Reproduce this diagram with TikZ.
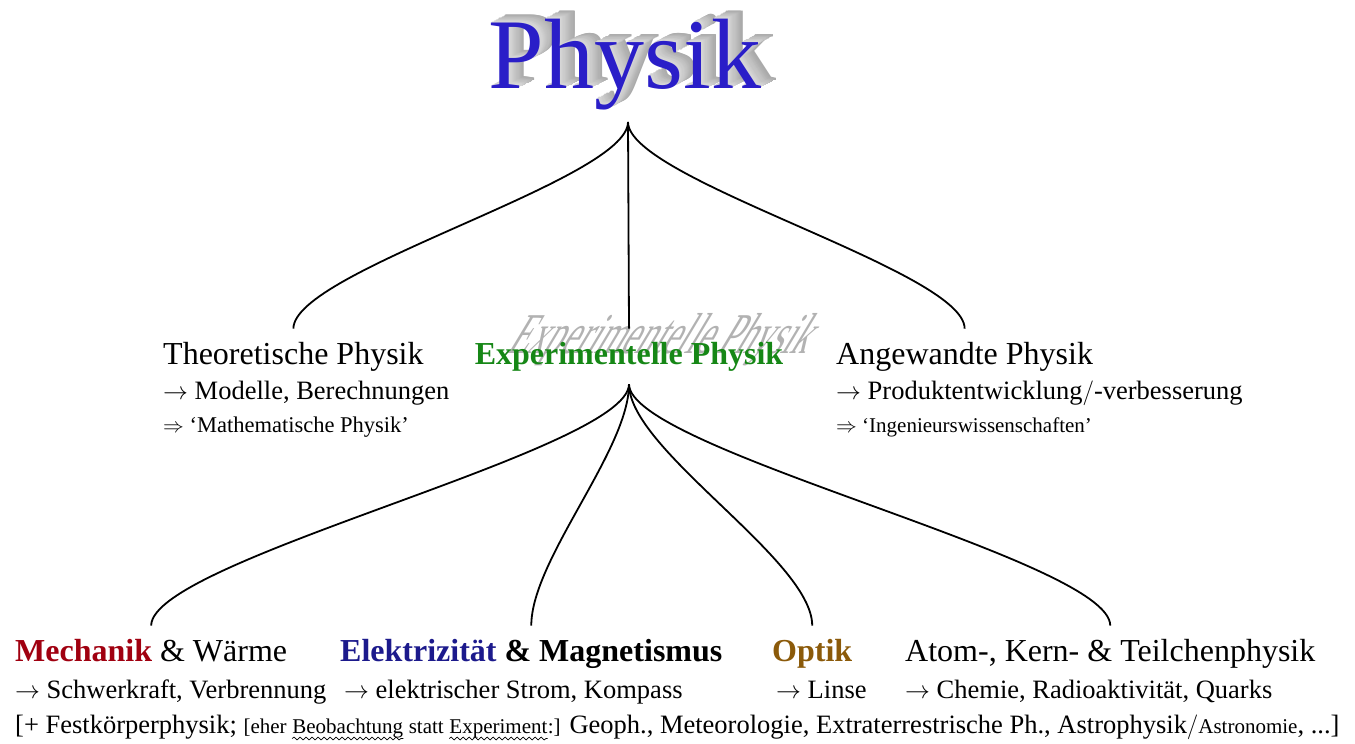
\documentclass[tikz,border=0pt]{standalone}
\usepackage{fontspec}
\setmainfont{Liberation Serif}
\usetikzlibrary{positioning,decorations.pathmorphing}
\definecolor{titelblau}{RGB}{42,30,200}
\definecolor{expgruen}{RGB}{22,135,22}
\definecolor{mechrot}{RGB}{160,0,16}
\definecolor{elekblau}{RGB}{28,26,140}
\definecolor{optikbraun}{RGB}{139,90,10}
\newcommand{\gross}{\fontsize{32}{36}\selectfont}
\newcommand{\mittel}{\fontsize{26.5}{30}\selectfont}
\newcommand{\klein}{\fontsize{21}{24}\selectfont}
\tikzset{
  titel/.style={
    font=\fontsize{100}{100}\selectfont,
    inner sep=0pt,
    anchor=base
  },
  kopf/.style={
    font=\gross,
    inner xsep=0pt,
    inner ysep=13pt,
    anchor=base west
  },
  unter/.style={
    font=\mittel,
    inner sep=0pt,
    anchor=base west
  },
  fuss/.style={
    font=\klein,
    inner sep=0pt,
    anchor=base west
  },
  ast/.style={
    line width=1.8pt,
    black
  },
  welle/.style={
    decorate,
    decoration={snake, amplitude=1.4pt, segment length=6pt},
    line width=.7pt
  }
}

\begin{document}
\begin{tikzpicture}[x=1pt,y=-1pt]
\useasboundingbox (0,0) rectangle (1355,744);

% Titel mit grauer Tiefe
\foreach \k in {13,...,1}{
  \pgfmathtruncatemacro\g{28+3*\k}
  \node[titel, text=gray!\g] at (625+1.15*\k,88-0.6*\k) {Physik};
}
\node[titel, text=titelblau] (titel) at (625,88) {Physik};
\coordinate (oben) at (628,122);

% erste Ebene
\begin{scope}[shift={(505,353)}, xslant=0.6, yscale=1.75]
  \node[font=\fontsize{33}{36}\selectfont, text=gray!60, inner sep=0pt, anchor=base west, transform shape] (schatten) at (0,0) {Experimentelle Physik};
\end{scope}
\node[kopf] (theo) at (163,364) {Theoretische Physik};
\node[kopf, anchor=base, text=expgruen] (exp) at (629,364) {\textbf{Experimentelle Physik}};
\node[kopf] (angew) at (836,364) {Angewandte Physik};
\node[unter] (theo1) at (163,399) {$\rightarrow$ Modelle, Berechnungen};
\node[fuss, font=\fontsize{22.5}{24}\selectfont] (theo2) at (163,432) {$\Rightarrow$ `Mathematische Physik'};
\node[unter] (angew1) at (836,399) {$\rightarrow$ Produktentwicklung$/$-verbesserung};
\node[fuss] (angew2) at (836,432) {$\Rightarrow$ `Ingenieurswissenschaften'};

\draw[ast] (oben) .. controls +(0,58) and +(0,-58) .. (theo.north);
\draw[ast] (oben) -- (exp.north);
\draw[ast] (oben) .. controls +(0,58) and +(0,-58) .. (angew.north);

% zweite Ebene
\node[kopf] (mech) at (15,661) {\textbf{\textcolor{mechrot}{Mechanik}} \& Wärme};
\node[kopf] (elek) at (340,661) {\textbf{\textcolor{elekblau}{Elektrizität} \& Magnetismus}};
\node[kopf] (optik) at (772,661) {\textbf{\textcolor{optikbraun}{Optik}}};
\node[kopf] (atom) at (905,661) {Atom-, Kern- \& Teilchenphysik};
\node[unter] (mech1) at (15,698) {$\rightarrow$ Schwerkraft, Verbrennung};
\node[unter] (elek1) at (344,698) {$\rightarrow$ elektrischer Strom, Kompass};
\node[unter] (optik1) at (776,698) {$\rightarrow$ Linse};
\node[unter] (atom1) at (905,698) {$\rightarrow$ Chemie, Radioaktivität, Quarks};

% letzte Zeile
\node[unter] (rest1) at (15,733) {[+ Festkörperphysik; {\klein[eher\ \mbox{}}};
\node[fuss] (beob) at (rest1.base east) {Beobachtung};
\node[fuss] (rest2) at (beob.base east) {\ statt\ \mbox{}};
\node[fuss] (exper) at (rest2.base east) {Experiment};
\node[unter] (rest3) at (exper.base east) {{\klein:]} Geoph., Meteorologie, Extraterrestrische Ph., Astrophysik$/${\klein Astronomie}, ...]};
\draw[welle] ([yshift=-5.5pt]beob.base west) -- ([yshift=-5.5pt]beob.base east);
\draw[welle] ([yshift=-5.5pt]exper.base west) -- ([yshift=-5.5pt]exper.base east);

\draw[ast] (exp.south) .. controls +(0,66) and +(0,-66) .. (mech.north);
\draw[ast] (exp.south) .. controls +(0,66) and +(0,-66) .. (elek.north);
\draw[ast] (exp.south) .. controls +(0,66) and +(0,-66) .. (optik.north);
\draw[ast] (exp.south) .. controls +(0,66) and +(0,-66) .. (atom.north);
\end{tikzpicture}
\end{document}
